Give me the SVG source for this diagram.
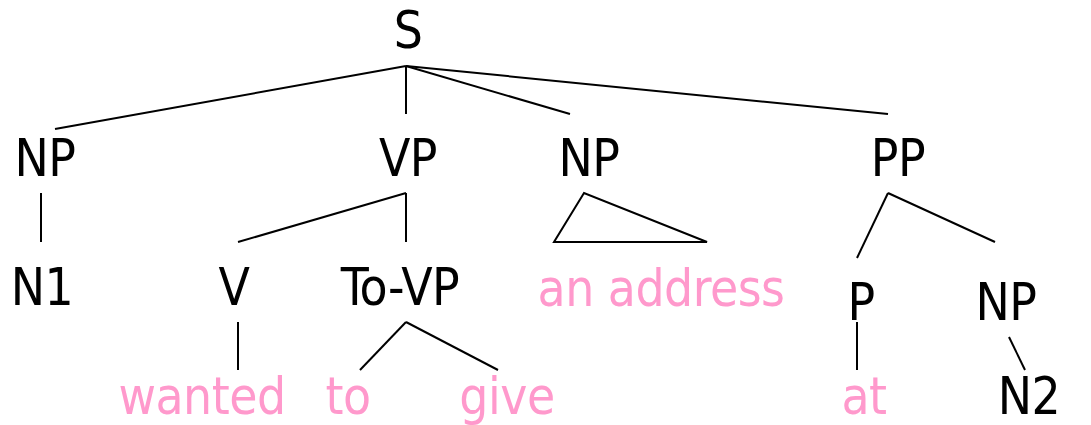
<svg xmlns="http://www.w3.org/2000/svg" width="1091" height="425" viewBox="0 0 1091 425">
  <style>
    .lbl { font-family: "DejaVu Sans Condensed", "DejaVu Sans", "Liberation Sans", sans-serif; font-size: 51px; letter-spacing: -0.5px; text-anchor: middle; fill: #000; }
    .word { fill: #ff99cc; }
    .edge { stroke: #000; stroke-width: 2; fill: none; }
  </style>
  <rect width="1091" height="425" fill="#fff"/>

  <!-- tree branches -->
  <g id="connectors">
    <line class="edge" x1="406" y1="66" x2="55" y2="129"/>
    <line class="edge" x1="406" y1="66" x2="406" y2="114"/>
    <line class="edge" x1="406" y1="66" x2="570" y2="114"/>
    <line class="edge" x1="406" y1="66" x2="888" y2="114"/>
    <line class="edge" x1="41" y1="193" x2="41" y2="242"/>
    <line class="edge" x1="406" y1="193" x2="238" y2="242"/>
    <line class="edge" x1="406" y1="193" x2="406" y2="242"/>
    <polygon class="edge" points="584,193 554,242 707,242"/>
    <line class="edge" x1="888" y1="193" x2="857" y2="258"/>
    <line class="edge" x1="888" y1="193" x2="995" y2="242"/>
    <line class="edge" x1="238" y1="322" x2="238" y2="370"/>
    <line class="edge" x1="406" y1="322" x2="360" y2="370"/>
    <line class="edge" x1="406" y1="322" x2="498" y2="370"/>
    <line class="edge" x1="857" y1="322" x2="857" y2="370"/>
    <line class="edge" x1="1009" y1="337" x2="1025" y2="370"/>
  </g>

  <g id="S"><text class="lbl" x="408" y="48">S</text></g>
  <g id="NP1"><text class="lbl" x="45" y="176">NP</text></g>
  <g id="VP"><text class="lbl" x="408" y="176">VP</text></g>
  <g id="NP2"><text class="lbl" x="589" y="176">NP</text></g>
  <g id="PP"><text class="lbl" x="898" y="176">PP</text></g>
  <g id="N1"><text class="lbl" x="42" y="305">N1</text></g>
  <g id="V"><text class="lbl" x="234" y="305">V</text></g>
  <g id="ToVP"><text class="lbl" x="400" y="305">To-VP</text></g>
  <g id="an-address"><text class="lbl word" x="661" y="306">an address</text></g>
  <g id="P"><text class="lbl" x="861" y="320">P</text></g>
  <g id="NP3"><text class="lbl" x="1006" y="320">NP</text></g>
  <g id="wanted"><text class="lbl word" x="202" y="414">wanted</text></g>
  <g id="to"><text class="lbl word" x="348" y="414">to</text></g>
  <g id="give"><text class="lbl word" x="507" y="414">give</text></g>
  <g id="at"><text class="lbl word" x="864" y="414">at</text></g>
  <g id="N2"><text class="lbl" x="1029" y="414">N2</text></g>
</svg>
